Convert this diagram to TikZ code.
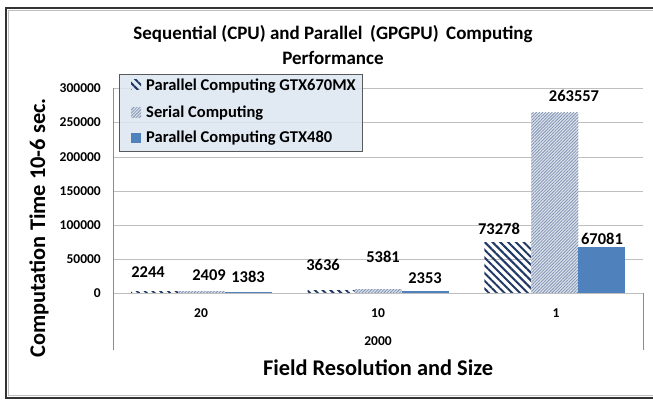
\documentclass[tikz,border=0pt]{standalone}
\usepackage{fontspec}
\setmainfont{Carlito}
\usetikzlibrary{patterns.meta}
\definecolor{gridc}{HTML}{BFBFBF}
\definecolor{axisc}{HTML}{8C8C8C}
\definecolor{navy}{HTML}{1F3864}
\definecolor{serline}{HTML}{7F93B3}
\definecolor{serfill}{HTML}{DDE3EC}
\definecolor{solidb}{HTML}{4F81BD}
\definecolor{legfill}{HTML}{DCE6F2}
\tikzset{
  gridln/.style={draw=gridc, line width=0.8pt},
  axisline/.style={draw=axisc, line width=0.9pt},
  parbar/.style={pattern={Lines[angle=-45,distance=5.5pt,line width=2pt]}, pattern color=navy},
  serbar/.style={fill=serfill, postaction={pattern={Lines[angle=45,distance=2.2pt,line width=0.8pt]}, pattern color=serline}},
  gtxbar/.style={fill=solidb},
  vlabel/.style={font=\bfseries\fontsize{16.5}{16.5}\selectfont, inner sep=0pt},
  ticklab/.style={font=\bfseries\fontsize{13.5}{13.5}\selectfont, anchor=east, inner sep=0pt},
  catlab/.style={font=\bfseries\fontsize{13.5}{13.5}\selectfont, inner sep=0pt},
  axtitle/.style={font=\bfseries\fontsize{22.4}{22.4}\selectfont, inner sep=0pt},
  legtext/.style={font=\bfseries\fontsize{16.5}{16.5}\selectfont, anchor=west, inner sep=0pt},
  titletext/.style={font=\bfseries\fontsize{19}{19}\selectfont, inner sep=0pt},
}
\begin{document}
\begin{tikzpicture}[x=1pt,y=-1pt]
\useasboundingbox (0,0) rectangle (653,403);
\clip (0,0) rectangle (653,403);
\fill[white] (0,0) rectangle (653,403);
% outer frame
\draw[black!80, line width=2pt] (6,8) rectangle (670,398);
\draw[black!25, line width=0.8pt] (8.5,10.5) rectangle (670,395.5);
% title
\node[titletext] (t1) at (333,34) {Sequential (CPU) and Parallel\, (GPGPU)\, Computing};
\node[titletext] (t2) at (333,58) {Performance};
% gridlines
\foreach \v/\y in {0/293,50000/259,100000/225,150000/191,200000/157,250000/122,300000/88}{
  \draw[gridln] (113,\y) -- (643,\y);
  \node[ticklab] (tick\v) at (101,\y) {\v};
}
% axes
\draw[axisline] (113,88) -- (113,350);
\draw[axisline] (643,293) -- (643,350);
% group 1 (heights = value * 205/300000)
\fill[parbar] (131,293) rectangle (178,291.47);
\fill[serbar] (178,293) rectangle (225,291.35);
\fill[gtxbar] (225,293) rectangle (272,292.05);
% group 2
\fill[parbar] (307.7,293) rectangle (354.7,290.52);
\fill[serbar] (354.7,293) rectangle (401.7,289.32);
\fill[gtxbar] (401.7,293) rectangle (448.7,291.39);
% group 3
\fill[parbar] (484.3,293) rectangle (531.3,242.93);
\fill[serbar] (531.3,293) rectangle (578.3,112.90);
\fill[gtxbar] (578.3,293) rectangle (625.3,247.16);
% value labels
\node[vlabel] (v1) at (148,272) {2244};
\node[vlabel] (v2) at (209,275) {2409};
\node[vlabel] (v3) at (248,277) {1383};
\node[vlabel] (v4) at (323,265) {3636};
\node[vlabel] (v5) at (383,257) {5381};
\node[vlabel] (v6) at (425,278) {2353};
\node[vlabel] (v7) at (499,229) {73278};
\node[vlabel] (v8) at (574,96) {263557};
\node[vlabel] (v9) at (602,239) {67081};
% category labels
\node[catlab] (c1) at (201,313) {20};
\node[catlab] (c2) at (378,313) {10};
\node[catlab] (c3) at (556,313) {1};
\node[catlab] (c4) at (378,341) {2000};
% axis titles
\node[axtitle] (xt) at (378,368) {Field Resolution and Size};
\node[axtitle, rotate=90] (yt) at (39,228) {Computation Time 10-6 sec.};
% legend
\draw[draw=black!65, fill=legfill, fill opacity=0.85, line width=0.8pt] (119,74) rectangle (362,151);
\fill[parbar] (131,80) rectangle (141,90);
\fill[serbar] (131,108) rectangle (141,118);
\fill[gtxbar] (131,133) rectangle (141,143);
\node[legtext] (l1) at (146,86) {Parallel Computing GTX670MX};
\node[legtext] (l2) at (146,113) {Serial Computing};
\node[legtext] (l3) at (146,138) {Parallel Computing GTX480};
\end{tikzpicture}
\end{document}
